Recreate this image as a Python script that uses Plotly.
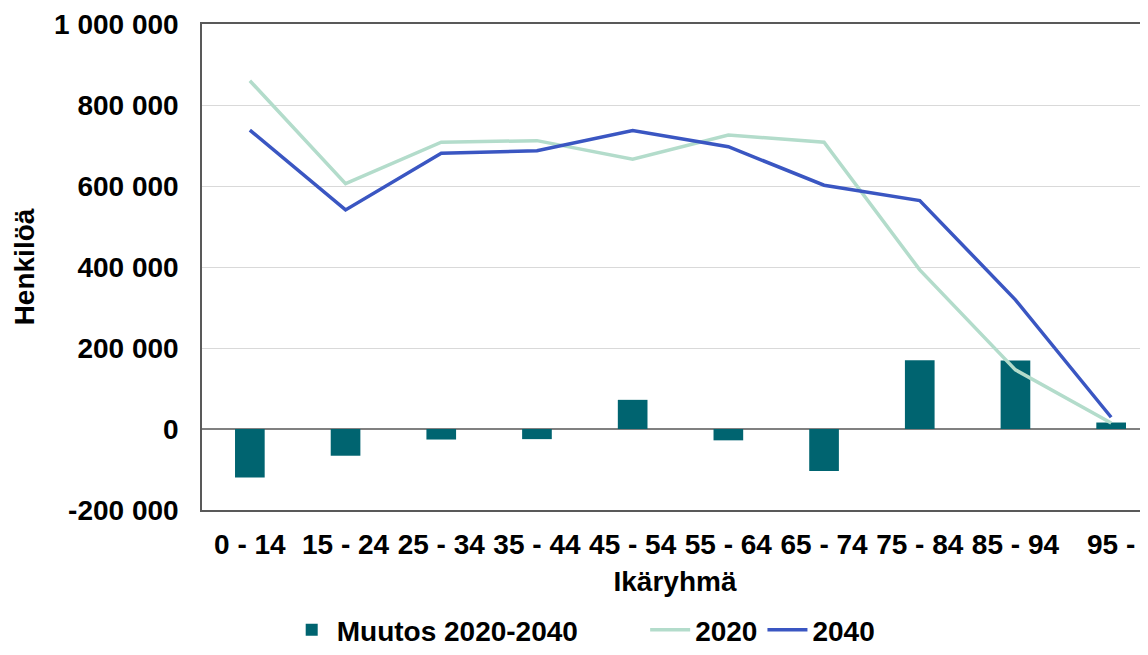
"""
Population by age group 2020 vs 2040, with change bars.
"""

import plotly.graph_objects as go

age_groups = ["0 - 14", "15 - 24", "25 - 34", "35 - 44", "45 - 54",
              "55 - 64", "65 - 74", "75 - 84", "85 - 94", "95 -"]
pop_2020 = [860000, 606000, 708000, 712000, 666000,
            726000, 708000, 393000, 146000, 15000]
pop_2040 = [738000, 541000, 681000, 687000, 737000,
            697000, 602000, 564000, 319000, 29000]
change_2020_2040 = [-120000, -66000, -26000, -25000, 72000,
                    -28000, -104000, 170000, 169000, 16000]

y_tickvals = [-200000, 0, 200000, 400000, 600000, 800000, 1000000]
y_ticktext = ["-200 000", "0", "200 000", "400 000", "600 000", "800 000", "1 000 000"]

FONT = "Arial, 'Liberation Sans', sans-serif"
# extra room after the first legend entry, like the original
PAD = "&nbsp;" * 8

fig = go.Figure()
fig.add_trace(go.Bar(
    x=age_groups, y=change_2020_2040, name="Muutos 2020-2040" + PAD,
    marker=dict(color="#006470", line=dict(width=0)), width=0.31,
))
fig.add_trace(go.Scatter(
    x=age_groups, y=pop_2020, name="2020", mode="lines",
    line=dict(color="#B3DCCB", width=3.5),
))
fig.add_trace(go.Scatter(
    x=age_groups, y=pop_2040, name="2040", mode="lines",
    line=dict(color="#3A56C2", width=3.5),
))

# page body has an 8px margin, so the figure is a bit smaller than the window
fig.update_layout(
    width=1140, height=647,
    margin=dict(l=194, r=0, t=16, b=145),
    paper_bgcolor="white", plot_bgcolor="white",
    font=dict(family=FONT, size=28, color="black", weight="bold"),
    showlegend=True,
    legend=dict(
        orientation="h", xref="container", x=0.505, xanchor="center",
        yref="container", y=0.0, yanchor="bottom",
        font=dict(size=28, weight="bold"), itemwidth=40,
        traceorder="normal",
    ),
)
fig.update_xaxes(
    type="category", range=[-0.5, 9.385], automargin=False,
    showline=True, linecolor="#595959", linewidth=1.5, mirror=True,
    showgrid=False, ticks="", ticklabelstandoff=9,
    title=dict(text="Ikäryhmä", standoff=12, font=dict(size=28, weight="bold")),
)
fig.update_yaxes(
    range=[-200000, 1000000], automargin=False,
    tickvals=y_tickvals, ticktext=y_ticktext,
    showline=True, linecolor="#595959", linewidth=1.5, mirror=False,
    showgrid=True, gridcolor="#D9D9D9", gridwidth=1,
    zeroline=True, zerolinecolor="#808080", zerolinewidth=1.5,
    ticks="", ticklabelstandoff=16,
    title=dict(text="Henkilöä", standoff=11, font=dict(size=28, weight="bold")),
)

fig.write_html("out.html")
